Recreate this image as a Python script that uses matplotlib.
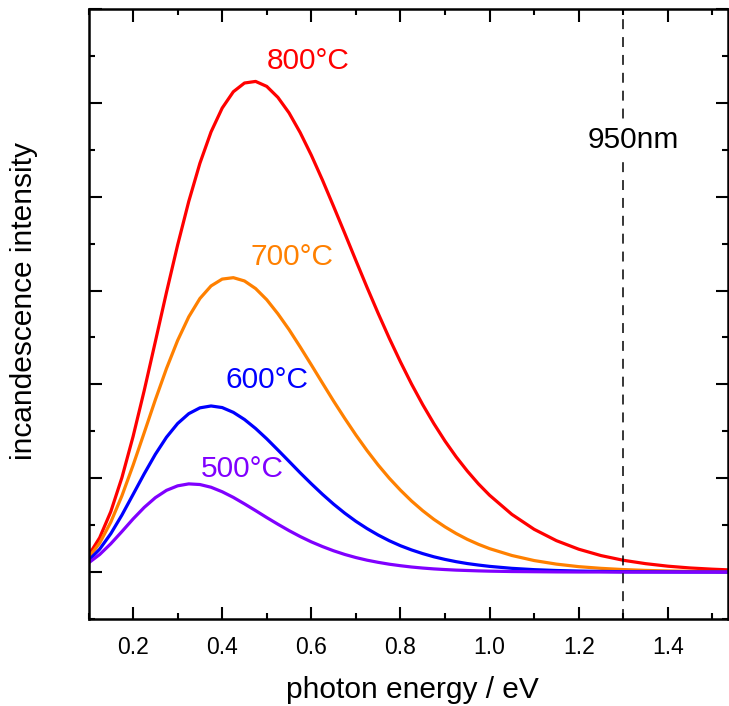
"""
Incandescence spectra at four temperatures vs photon energy, with the 950 nm marker.
"""
import matplotlib
matplotlib.use("Agg")
import matplotlib.pyplot as plt
from matplotlib.ticker import MultipleLocator

plt.rcParams["font.family"] = ["Liberation Sans", "DejaVu Sans"]

# photon energy grid (eV)
energy = [0.100, 0.125, 0.150, 0.175, 0.200, 0.225, 0.250, 0.275, 0.300, 0.325,
          0.350, 0.375, 0.400, 0.425, 0.450, 0.475, 0.500, 0.525, 0.550, 0.575,
          0.600, 0.625, 0.650, 0.675, 0.700, 0.725, 0.750, 0.775, 0.800, 0.825,
          0.850, 0.875, 0.900, 0.925, 0.950, 0.975, 1.000,
          1.050, 1.100, 1.150, 1.200, 1.250, 1.300, 1.350, 1.400, 1.450, 1.500, 1.550]

# intensity (arbitrary units, one major tick = 1)
i_800 = [0.176, 0.366, 0.644, 1.007, 1.444, 1.934, 2.456, 2.981, 3.485, 3.950,
         4.356, 4.690, 4.944, 5.118, 5.211, 5.228, 5.175, 5.058, 4.893, 4.683,
         4.442, 4.177, 3.896, 3.610, 3.320, 3.034, 2.757, 2.491, 2.240, 2.003,
         1.784, 1.582, 1.396, 1.228, 1.077, 0.940, 0.819,
         0.615, 0.456, 0.335, 0.244, 0.176, 0.126, 0.090, 0.063, 0.044, 0.031, 0.021]
i_700 = [0.152, 0.309, 0.532, 0.813, 1.138, 1.485, 1.836, 2.169, 2.468, 2.720,
         2.915, 3.049, 3.122, 3.137, 3.102, 3.021, 2.902, 2.752, 2.584, 2.399,
         2.208, 2.014, 1.822, 1.638, 1.461, 1.295, 1.141, 1.000, 0.873, 0.757,
         0.654, 0.562, 0.482, 0.411, 0.349, 0.296, 0.250,
         0.177, 0.123, 0.085, 0.058, 0.040, 0.027, 0.018, 0.012, 0.008, 0.005, 0.003]
i_600 = [0.123, 0.244, 0.409, 0.608, 0.827, 1.047, 1.255, 1.437, 1.583, 1.688,
         1.750, 1.770, 1.753, 1.702, 1.626, 1.530, 1.420, 1.301, 1.180, 1.058,
         0.941, 0.829, 0.724, 0.628, 0.541, 0.464, 0.395, 0.334, 0.281, 0.236,
         0.197, 0.163, 0.135, 0.111, 0.091, 0.075, 0.061,
         0.040, 0.026, 0.017, 0.011, 0.007, 0.004, 0.003, 0.002, 0.001, 0.001, 0.000]
i_500 = [0.097, 0.187, 0.302, 0.432, 0.566, 0.689, 0.793, 0.871, 0.919, 0.940,
         0.933, 0.904, 0.856, 0.796, 0.727, 0.655, 0.581, 0.510, 0.442, 0.379,
         0.322, 0.272, 0.227, 0.188, 0.155, 0.127, 0.104, 0.084, 0.068, 0.054,
         0.043, 0.034, 0.027, 0.021, 0.017, 0.013, 0.010,
         0.006, 0.004, 0.002, 0.001, 0.001, 0.000, 0.000, 0.000, 0.000, 0.000, 0.000]

temps = ["800°C", "700°C", "600°C", "500°C"]
colors = ["#ff0000", "#ff8000", "#0000ff", "#8000ff"]
series = [i_800, i_700, i_600, i_500]
label_pos = [(0.594, 5.36), (0.557, 3.27), (0.501, 1.96), (0.446, 1.01)]

cutoff_ev = 1.3  # 950 nm

fig = plt.figure(figsize=(7.29, 7.06), dpi=100)
ax = fig.add_axes([0.1214, 0.1232, 0.8772, 0.8641])

for vals, col, name, (tx, ty) in zip(series, colors, temps, label_pos):
    ax.plot(energy, vals, color=col, lw=2.3, solid_capstyle="round",
            solid_joinstyle="round")
    ax.text(tx, ty, name, color=col, fontsize=21.5, ha="center", va="baseline")

ax.axvline(cutoff_ev, color="black", lw=1.1, dashes=(6.5, 5.2))
ax.text(1.322, 4.52, "950nm", fontsize=21.5, ha="center", va="baseline",
        bbox=dict(facecolor="white", edgecolor="none", pad=1))

ax.set_xlim(0.1, 1.535)
ax.set_ylim(-0.5, 6.0)
ax.xaxis.set_major_locator(MultipleLocator(0.2))
ax.xaxis.set_minor_locator(MultipleLocator(0.1))
ax.yaxis.set_major_locator(MultipleLocator(1))
ax.yaxis.set_minor_locator(MultipleLocator(0.5))
ax.set_yticklabels([])
ax.tick_params(which="both", direction="in", top=True, right=True, width=1.5)
ax.tick_params(which="major", length=9, labelsize=16.5, pad=12)
ax.tick_params(which="minor", length=4.5)
for sp in ax.spines.values():
    sp.set_linewidth(1.8)

ax.set_xlabel("photon energy / eV", fontsize=21.5)
ax.xaxis.label.set_va("baseline")
ax.xaxis.set_label_coords(0.507, -0.1295)
ax.set_ylabel("incandescence intensity", fontsize=21.5)
ax.yaxis.label.set_rotation_mode("anchor")
ax.yaxis.label.set_va("baseline")
ax.yaxis.set_label_coords(-0.0883, 0.522)

fig.savefig("out.png", dpi=100)
plt.close()
